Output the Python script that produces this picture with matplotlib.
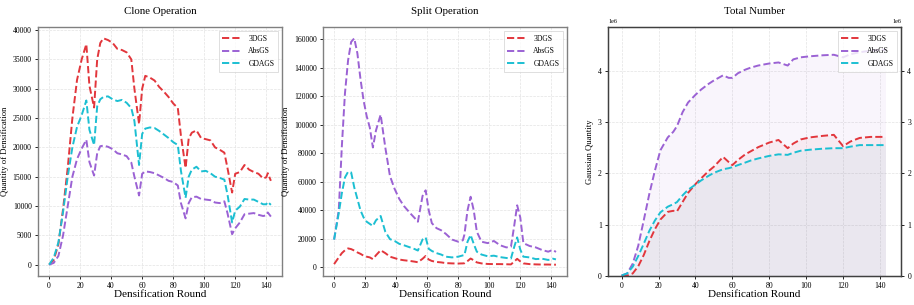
import numpy as np
import matplotlib
matplotlib.use("Agg")
import matplotlib.pyplot as plt

plt.rcParams['font.family'] = ['Liberation Serif', 'DejaVu Serif']

methods = ["3DGS", "AbsGS", "GDAGS"]
colors = ["#e2363c", "#9b62d4", "#1cbfd2"]

# clone operation
clone_x = [0, 3, 6, 9, 12, 15, 18, 21, 24, 26, 29, 31, 33, 35, 38, 41, 44, 47, 50, 53, 55, 58,
           60, 62, 65, 68, 71, 74, 77, 80, 83, 85, 88, 90, 92, 95, 98, 101, 104, 107, 110, 113,
           115, 118, 120, 123, 126, 129, 132, 135, 138, 140, 141, 143]
clone_3dgs = [0, 800, 3500, 9500, 16500, 25000, 31500, 35000, 37600, 30500, 26800, 35000, 37800,
              38600, 38300, 37800, 36800, 36600, 36200, 35000, 30000, 24000, 30000, 32200, 31900,
              31400, 30300, 29500, 28600, 27500, 26700, 22000, 16500, 21500, 22500, 22900, 21600,
              21400, 21200, 20000, 19600, 19100, 16500, 12300, 15500, 15800, 17000, 16200, 15800,
              15500, 14700, 14900, 15600, 14300]
clone_absgs = [0, 300, 1500, 5000, 10000, 15000, 18000, 19800, 21300, 17500, 15200, 19000, 20200,
               20300, 20100, 19700, 19000, 18800, 18500, 17400, 15000, 11800, 15500, 15900, 15800,
               15600, 15200, 14800, 14300, 14100, 13500, 10500, 7900, 10500, 11500, 11600, 11200,
               11100, 11000, 10600, 10500, 10800, 8800, 5200, 6200, 7200, 8600, 8700, 8800,
               8500, 8300, 8400, 8900, 8200]
clone_gdags = [0, 1200, 3800, 9000, 15000, 20000, 23500, 25500, 28000, 23000, 20400, 27000, 28200,
               28600, 28700, 28200, 27900, 28100, 27600, 26700, 24500, 17000, 22300, 23200, 23400,
               23300, 22800, 22200, 21600, 20900, 20400, 16000, 11400, 15000, 16200, 16700, 15900,
               16000, 15600, 15000, 14800, 14500, 12000, 7200, 9200, 9900, 11200, 11100, 11100,
               10700, 10300, 10300, 10700, 10200]

# split operation
split_x = [0, 3, 5, 7, 9, 11, 13, 15, 17, 19, 21, 23, 25, 27, 30, 33, 36, 39, 42, 45, 49, 52, 54,
           57, 59, 61, 63, 66, 69, 72, 76, 80, 83, 84, 86, 88, 90, 92, 95, 99, 103, 107, 111, 114,
           116, 118, 120, 122, 126, 130, 134, 138, 141, 143]
split_3dgs = [2300, 7000, 10000, 12000, 13300, 12800, 11800, 10500, 9500, 8200, 7500, 7000, 5800,
              8500, 12000, 10000, 7500, 6500, 5500, 5000, 4500, 4000, 3600, 6000, 8000, 5500, 4500,
              3800, 3500, 3000, 2800, 2700, 2800, 2900, 4400, 6200, 5000, 3500, 2800, 2400, 2300,
              2300, 2200, 2100, 4000, 6000, 4200, 2800, 2300, 2100, 2000, 2000, 1900, 1900]
split_absgs = [19500, 40000, 85000, 122000, 145000, 158000, 160500, 150000, 132000, 117000, 106000,
               98000, 84000, 96000, 107000, 84000, 64000, 55000, 48000, 43000, 38000, 34500, 32000,
               50000, 54000, 40000, 31000, 27500, 26000, 23500, 19500, 18000, 19000, 23000, 40000,
               49500, 40000, 25000, 18000, 17000, 18500, 15500, 14000, 14500, 28500, 43500, 35000,
               17000, 15000, 14000, 12200, 11000, 12300, 10800]
split_gdags = [19500, 38000, 52000, 63000, 67000, 66500, 56000, 48000, 40000, 35000, 32000, 30500,
               29000, 33000, 36000, 25000, 19800, 18500, 16500, 15500, 14000, 12800, 11800, 19500,
               21000, 13000, 11500, 10000, 9000, 7500, 7000, 7500, 8400, 8600, 18000, 22700, 16500,
               11000, 9000, 7800, 8200, 7200, 6600, 6200, 14000, 21000, 12500, 7500, 7000, 5800,
               6100, 5200, 6100, 5600]

# total number (millions)
total_x = [0, 3, 6, 9, 12, 15, 18, 21, 25, 28, 30, 33, 36, 40, 43, 47, 50, 55, 58, 60, 63, 67, 70,
           74, 80, 85, 90, 93, 97, 102, 109, 115, 120, 124, 129, 135, 143]
total_3dgs = [0.0, 0.01, 0.05, 0.19, 0.41, 0.68, 0.91, 1.10, 1.25, 1.27, 1.26, 1.44, 1.62, 1.79,
              1.90, 2.04, 2.13, 2.32, 2.22, 2.16, 2.26, 2.37, 2.43, 2.51, 2.60, 2.65, 2.49, 2.58,
              2.66, 2.70, 2.73, 2.75, 2.53, 2.62, 2.69, 2.71, 2.71]
total_absgs = [0.01, 0.05, 0.24, 0.59, 1.09, 1.60, 2.05, 2.45, 2.70, 2.81, 2.92, 3.19, 3.38, 3.53,
               3.63, 3.74, 3.81, 3.91, 3.86, 3.86, 3.95, 4.02, 4.06, 4.10, 4.14, 4.16, 4.10, 4.22,
               4.26, 4.28, 4.30, 4.31, 4.26, 4.32, 4.36, 4.39, 4.41]
total_gdags = [0.01, 0.05, 0.18, 0.39, 0.63, 0.88, 1.08, 1.24, 1.35, 1.40, 1.44, 1.57, 1.68, 1.78,
               1.86, 1.95, 2.01, 2.08, 2.10, 2.12, 2.16, 2.21, 2.25, 2.29, 2.34, 2.37, 2.36, 2.40,
               2.44, 2.46, 2.48, 2.49, 2.49, 2.52, 2.55, 2.55, 2.55]

fig = plt.figure(figsize=(9.14, 3.05), dpi=100)
ax1 = fig.add_axes([0.0416, 0.0951, 0.2669, 0.8164])
ax2 = fig.add_axes([0.3534, 0.0951, 0.2670, 0.8164])
ax3 = fig.add_axes([0.6652, 0.0951, 0.3206, 0.8164])

lw = 1.4


def style(ax, spine_color):
    ax.grid(True, color="#e3e3e3", linewidth=0.5, linestyle="--")
    ax.set_axisbelow(True)
    for s in ax.spines.values():
        s.set_color(spine_color)
        s.set_linewidth(1.0)
    ax.tick_params(labelsize=5.6, length=2.5, width=0.6, pad=2)
    ax.set_xticks(range(0, 141, 20))
    ax.set_xlabel("Densification Round", fontsize=8, labelpad=0)


def legend(ax):
    leg = ax.legend(loc="upper right", fontsize=5.5, frameon=True, fancybox=False,
                    edgecolor="#d0d0d0", handlelength=2.6, borderpad=0.5, labelspacing=0.6)
    leg.get_frame().set_linewidth(0.6)


for data, c, m in zip([clone_3dgs, clone_absgs, clone_gdags], colors, methods):
    ax1.plot(clone_x, data, "--", color=c, lw=lw, label=m)
style(ax1, "#808080")
ax1.set_title("Clone Operation", fontsize=7.8, pad=9)
ax1.set_ylabel("Quantity of Densification", fontsize=6.2, labelpad=3)
ax1.set_yticks(range(0, 40001, 5000))
legend(ax1)

for data, c, m in zip([split_3dgs, split_absgs, split_gdags], colors, methods):
    ax2.plot(split_x, data, "--", color=c, lw=lw, label=m)
style(ax2, "#808080")
ax2.set_title("Split Operation", fontsize=7.8, pad=9)
ax2.set_ylabel("Quantity of Densification", fontsize=6.2, labelpad=3)
ax2.set_yticks(range(0, 160001, 20000))
legend(ax2)

tot = {"3DGS": np.array(total_3dgs) * 1e6, "AbsGS": np.array(total_absgs) * 1e6,
       "GDAGS": np.array(total_gdags) * 1e6}
for m, c in zip(methods, colors):
    ax3.fill_between(total_x, 0, tot[m], color=c, alpha=0.06, lw=0)
for m, c in zip(methods, colors):
    ax3.plot(total_x, tot[m], "--", color=c, lw=lw, label=m)
style(ax3, "#404040")
ax3.set_title("Total Number", fontsize=7.8, pad=9)
ax3.set_ylabel("Gaussian Quantity", fontsize=6.2, labelpad=3)
ymax = tot["AbsGS"].max() * 1.1
ax3.set_ylim(0, ymax)
ax3.set_xlim(-7.4, 151.4)
ax3.yaxis.get_offset_text().set_fontsize(4.5)
legend(ax3)

# right-hand copy of the y axis
ax3r = ax3.twinx()
ax3r.set_ylim(0, ymax)
ax3r.tick_params(labelsize=5.6, length=2.5, width=0.6, pad=2)
ax3r.yaxis.get_offset_text().set_fontsize(4.5)
for s in ax3r.spines.values():
    s.set_color("#404040")

fig.savefig("out.png", dpi=100)
